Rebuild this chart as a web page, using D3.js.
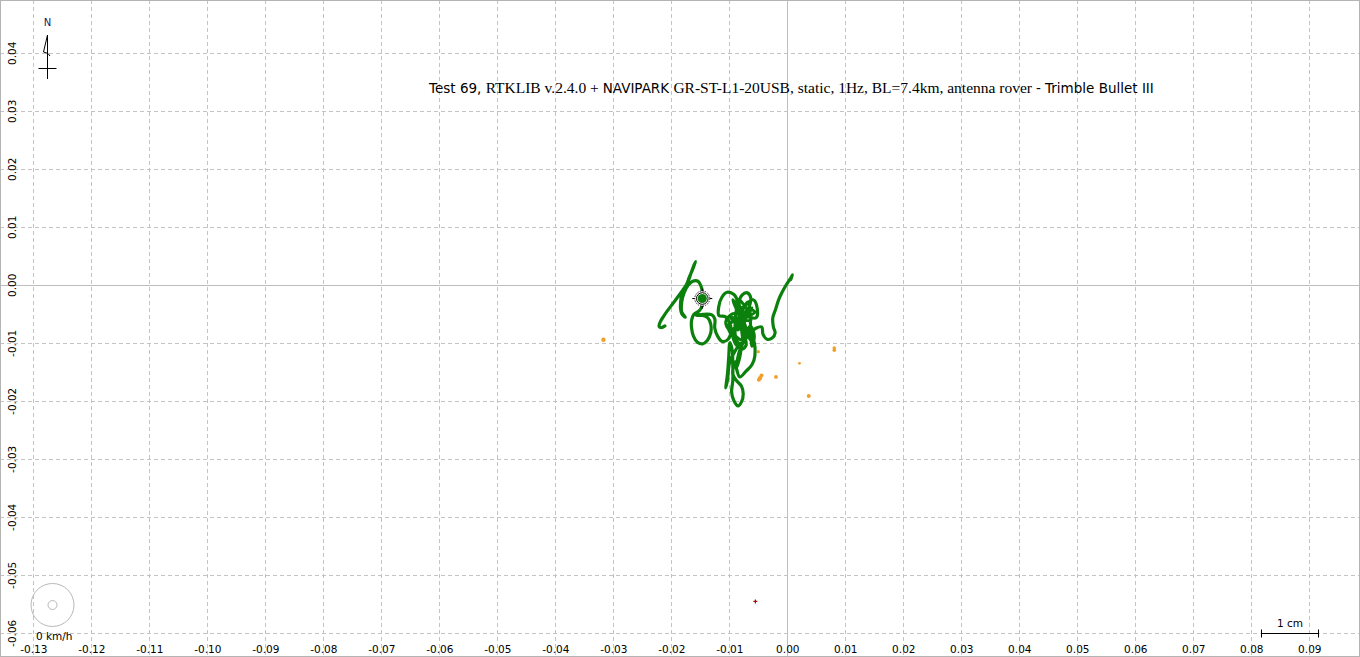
<!DOCTYPE html>
<html>
<head>
<meta charset="utf-8">
<script src="https://cdn.jsdelivr.net/npm/d3@7"></script>
<style>
  body { margin: 0; background: #fff; }
  #track_plot text { fill: #000; }
</style>
</head>
<body>
<div id="track_plot"></div>
<script>
// grid ticks (metres)
var xTicks = [-0.13, -0.12, -0.11, -0.10, -0.09, -0.08, -0.07, -0.06, -0.05, -0.04, -0.03, -0.02, -0.01,
              0.00, 0.01, 0.02, 0.03, 0.04, 0.05, 0.06, 0.07, 0.08, 0.09];
var yTicks = [0.04, 0.03, 0.02, 0.01, 0.00, -0.01, -0.02, -0.03, -0.04, -0.05, -0.06];

// fixed solution track, east / north offsets in mm
var trackE = [-21.1, -21.7, -22.1, -21.9, -21.3, -20.6, -19.7, -18.8, -18.0, -17.4, -16.9, -16.3, -15.8, -16.2, -16.7,
              -17.1, -17.6, -18.2, -18.4, -18.4, -18.2, -17.6, -18.2, -18.2, -17.8, -17.1, -16.3, -15.4, -14.9, -14.6,
              -14.6, -14.7, -15.2, -16.1, -16.5, -16.5, -16.2, -15.5, -14.6, -13.8, -13.2, -13.2, -13.7, -14.6, -15.7,
              -14.5, -13.0, -12.5, -12.5, -12.0, -11.2, -10.2, -9.7, -10.0, -10.7, -11.8, -11.8, -11.3, -10.4, -9.2,
              -8.5, -8.0, -7.5, -7.1, -7.8, -8.8, -9.0, -8.7, -7.8, -6.9, -6.3, -6.8, -8.0, -9.9, -10.6,
              -9.4, -7.3, -5.4, -5.2, -5.9, -7.3, -8.5, -9.4, -8.5, -7.3, -6.4, -5.7, -6.1,
              -6.8, -9.0, -7.5, -8.3, -6.3, -9.7, -7.1, -8.7, -5.6, -10.2, -7.8, -8.1, -6.4, -9.4, -7.3,
              -8.5, -6.1, -8.8, -6.0,
              -5.6, -6.1,
              -7.1, -8.2, -8.7, -9.0, -9.4, -8.7, -7.9, -7.6, -7.9, -8.5, -9.2, -9.6, -9.4, -9.4, -9.5,
              -9.9, -10.1, -10.3, -10.6, -10.3, -9.9, -8.0, -8.2, -8.8, -8.2, -6.8, -5.4, -4.4, -4.2, -3.5,
              -2.6, -2.1, -2.4, -2.5, -2.0, -1.5, -0.9, -0.2, 0.5, 0.9, 0.6];
var trackN = [-7.0, -7.3, -7.1, -6.3, -5.3, -4.3, -3.1, -1.9, -0.8, 0.1, 1.4, 2.8, 4.1, 3.2, 1.8,
              0.6, -0.6, -1.7, -2.9, -4.1, -4.9, -5.5, -4.6, -2.9, -1.3, 0.0, 0.7, 0.7, -0.1, -1.3,
              -2.5, -3.6, -4.4, -5.0, -6.0, -7.4, -8.7, -9.8, -10.1, -9.5, -8.2, -6.7, -5.6, -5.2, -5.2,
              -5.0, -5.1, -5.8, -7.4, -8.8, -9.7, -9.3, -7.9, -6.3, -5.4, -5.2, -3.6, -2.1, -1.2, -1.6,
              -2.9, -5.6, -8.2, -10.3, -11.0, -9.8, -6.8, -3.9, -1.7, -1.3, -2.2, -4.3, -6.3, -7.7, -6.3,
              -4.9, -5.3, -5.6, -3.9, -2.5, -3.6, -6.0, -8.7, -10.5, -9.1, -7.0, -8.7, -10.5,
              -2.9, -8.6, -9.4, -2.5, -6.0, -5.6, -7.5, -3.9, -4.6, -7.0, -10.3, -5.1, -9.4, -2.5, -6.0,
              -7.7, -3.9, -6.3, -9.0,
              -12.2, -13.7,
              -14.8, -15.8, -14.6, -13.2, -15.3, -16.5, -17.4, -18.7, -20.1, -20.8, -19.9, -18.4, -16.5, -13.9, -11.2,
              -9.9, -12.4, -15.1, -17.7, -16.3, -13.2, -10.0, -12.4, -14.3, -11.2, -8.7, -7.4, -7.2, -8.4, -9.3,
              -9.1, -8.2, -7.2, -5.6, -4.1, -2.5, -1.2, 0.05, 1.1, 1.8, 1.0];

// float solutions (mm)
var floatE = [-31.7, -5.0, -4.7, -4.45, -4.9, -1.95, 2.1, 8.1, 8.1, 3.7];
var floatN = [-9.4, -11.45, -16.0, -15.55, -16.3, -15.8, -13.45, -11.2, -10.8, -19.1];
var floatR = [2.2, 1.6, 2.2, 2.0, 2.0, 1.9, 1.4, 1.8, 1.8, 2.0];

// single solution (mm)
var singleE = [-5.5];
var singleN = [-54.5];

// reference position marker (mm)
var refE = [-14.66];
var refN = [-2.28];

var speedLabel = "0 km/h";
var scaleLabel = "1 cm";
var scaleLen = 0.01;
var titleParts = [
  {t: "Test 69, ", f: "sans"},
  {t: "RTKLIB v.2.4.0 + ", f: "serif"},
  {t: "NAVIPARK ", f: "sans"},
  {t: "GR-ST-L1-20USB, static, 1Hz, BL=7.4km, antenna rover ", f: "serif"},
  {t: "- Trimble Bullet III", f: "sans"}
];

var width = 1360, height = 657;
var sansFont = "'DejaVu Sans', Tahoma, sans-serif";
var serifFont = "'Liberation Serif', 'Times New Roman', serif";

var svg = d3.select("#track_plot").append("svg")
    .attr("width", width)
    .attr("height", height)
    .style("display", "block");

// equal aspect: 58 px per cm on both axes
var x = d3.scaleLinear().domain([-0.13, 0.09]).range([33.3, 1309.3]);
var y = d3.scaleLinear().domain([-0.06, 0.04]).range([633.3, 53.3]);

// dashed grid
svg.selectAll(".vgrid")
    .data(xTicks.filter(function(d) { return Math.abs(d) > 1e-9; }))
  .enter().append("line")
    .attr("class", "vgrid")
    .attr("x1", function(d) { return Math.round(x(d)) + 0.5; })
    .attr("x2", function(d) { return Math.round(x(d)) + 0.5; })
    .attr("y1", 0).attr("y2", height)
    .attr("stroke", "#c4c4c4")
    .attr("stroke-dasharray", "4,3");

svg.selectAll(".hgrid")
    .data(yTicks.filter(function(d) { return Math.abs(d) > 1e-9; }))
  .enter().append("line")
    .attr("class", "hgrid")
    .attr("y1", function(d) { return Math.round(y(d)) + 0.5; })
    .attr("y2", function(d) { return Math.round(y(d)) + 0.5; })
    .attr("x1", 0).attr("x2", width)
    .attr("stroke", "#c4c4c4")
    .attr("stroke-dasharray", "4,3");

// zero axes, solid
svg.append("line")
    .attr("x1", Math.round(x(0)) + 0.5).attr("x2", Math.round(x(0)) + 0.5)
    .attr("y1", 0).attr("y2", height)
    .attr("stroke", "#bdbdbd");
svg.append("line")
    .attr("y1", Math.round(y(0)) + 0.5).attr("y2", Math.round(y(0)) + 0.5)
    .attr("x1", 0).attr("x2", width)
    .attr("stroke", "#bdbdbd");

// frame
svg.append("rect")
    .attr("x", 0.5).attr("y", 0.5)
    .attr("width", width - 1).attr("height", height - 1)
    .attr("fill", "none")
    .attr("stroke", "#b4b4b4");

// x tick labels
var xAxis = d3.axisBottom(x)
    .tickValues(xTicks)
    .tickSize(0)
    .tickPadding(0)
    .tickFormat(function(d) { return d.toFixed(2); });

svg.append("g")
    .attr("class", "xaxis")
    .attr("transform", "translate(0,645.5)")
    .call(xAxis)
    .call(function(g) { g.select(".domain").remove(); })
    .selectAll("text")
    .style("font-family", sansFont)
    .style("font-size", "10.5px")
    .attr("fill", "#000");

// y tick labels, rotated
svg.selectAll(".ylab")
    .data(yTicks)
  .enter().append("text")
    .attr("class", "ylab")
    .attr("transform", function(d) { return "translate(15.5," + y(d) + ") rotate(-90)"; })
    .attr("text-anchor", "middle")
    .style("font-family", sansFont)
    .style("font-size", "10.5px")
    .text(function(d) { return d.toFixed(2); });

// title
var title = svg.append("text")
    .attr("x", 429)
    .attr("y", 93)
    .style("font-size", "15px");
title.selectAll("tspan")
    .data(titleParts)
  .enter().append("tspan")
    .style("font-family", function(d) { return d.f == "sans" ? sansFont : serifFont; })
    .style("font-size", function(d) { return d.f == "sans" ? "13.5px" : "15.5px"; })
    .attr("xml:space", "preserve")
    .text(function(d) { return d.t; });

// track
var line = d3.line()
    .x(function(d) { return x(d[0] / 1000); })
    .y(function(d) { return y(d[1] / 1000); })
    .curve(d3.curveCatmullRom.alpha(0.5));

var track = trackE.map(function(e, i) { return [e, trackN[i]]; });

svg.append("path")
    .datum(track)
    .attr("d", line)
    .attr("fill", "none")
    .attr("stroke", "#0c800c")
    .attr("stroke-width", 3.2)
    .attr("stroke-linejoin", "round")
    .attr("stroke-linecap", "round");

// float points
svg.selectAll(".float_pt")
    .data(floatE)
  .enter().append("circle")
    .attr("class", "float_pt")
    .attr("cx", function(d) { return x(d / 1000); })
    .attr("cy", function(d, i) { return y(floatN[i] / 1000); })
    .attr("r", function(d, i) { return floatR[i]; })
    .attr("fill", "#f0a02a");

// single point
svg.selectAll(".single_pt")
    .data(singleE)
  .enter().append("path")
    .attr("class", "single_pt")
    .attr("d", function(d, i) {
        var cx = x(d / 1000), cy = y(singleN[i] / 1000);
        return "M" + (cx - 2) + "," + cy + "h4M" + cx + "," + (cy - 2) + "v4";
    })
    .attr("stroke", "#a01010")
    .attr("stroke-width", 1.2);

// reference marker
var ref = svg.selectAll(".ref_marker")
    .data(refE)
  .enter().append("g")
    .attr("class", "ref_marker")
    .attr("transform", function(d, i) {
        return "translate(" + x(d / 1000) + "," + y(refN[i] / 1000) + ")";
    });
ref.append("path")
    .attr("d", "M-10,0H10M0,-10V10")
    .attr("stroke", "#000")
    .attr("stroke-width", 1);
ref.append("circle")
    .attr("r", 7.5)
    .attr("fill", "#fff")
    .attr("stroke", "#000")
    .attr("stroke-width", 0.8)
    .attr("stroke-dasharray", "1.5,1");
ref.append("circle")
    .attr("r", 5.8)
    .attr("fill", "#fff")
    .attr("stroke", "#000")
    .attr("stroke-width", 1);
ref.append("circle")
    .attr("r", 4.6)
    .attr("fill", "#0c800c");

// north arrow
var compass = svg.append("g").attr("class", "compass");
compass.append("text")
    .attr("x", 47.5).attr("y", 26)
    .attr("text-anchor", "middle")
    .style("font-family", sansFont)
    .style("font-size", "10px")
    .style("fill", "#1a1a5e")
    .text("N");
compass.append("path")
    .attr("d", "M47.5,35V79M38.5,68.5H56.5M47.5,35L43.5,52L48,53.5L50,56")
    .attr("fill", "none")
    .attr("stroke", "#000")
    .attr("stroke-width", 1);

// speed gauge
var gauge = svg.append("g").attr("transform", "translate(52.5,605)");
gauge.append("circle").attr("r", 21.5)
    .attr("fill", "none").attr("stroke", "#b8b8b8");
gauge.append("circle").attr("r", 4.5)
    .attr("fill", "none").attr("stroke", "#b8b8b8");
svg.append("text")
    .attr("x", 36).attr("y", 639.5)
    .style("font-family", sansFont)
    .style("font-size", "10.5px")
    .text(speedLabel);

// scale bar
var sbRight = 1319;
var sbLeft = sbRight - (x(scaleLen) - x(0));
var sb = svg.append("g").attr("class", "scalebar");
sb.append("path")
    .attr("d", "M" + sbLeft + ",633.5H" + sbRight + "M" + (sbLeft + 0.5) + ",629.5V637.5M" + (sbRight - 0.5) + ",629.5V637.5")
    .attr("stroke", "#000")
    .attr("fill", "none");
sb.append("text")
    .attr("x", (sbLeft + sbRight) / 2).attr("y", 626.5)
    .attr("text-anchor", "middle")
    .style("font-family", sansFont)
    .style("font-size", "10.5px")
    .text(scaleLabel);
</script>
</body>
</html>
